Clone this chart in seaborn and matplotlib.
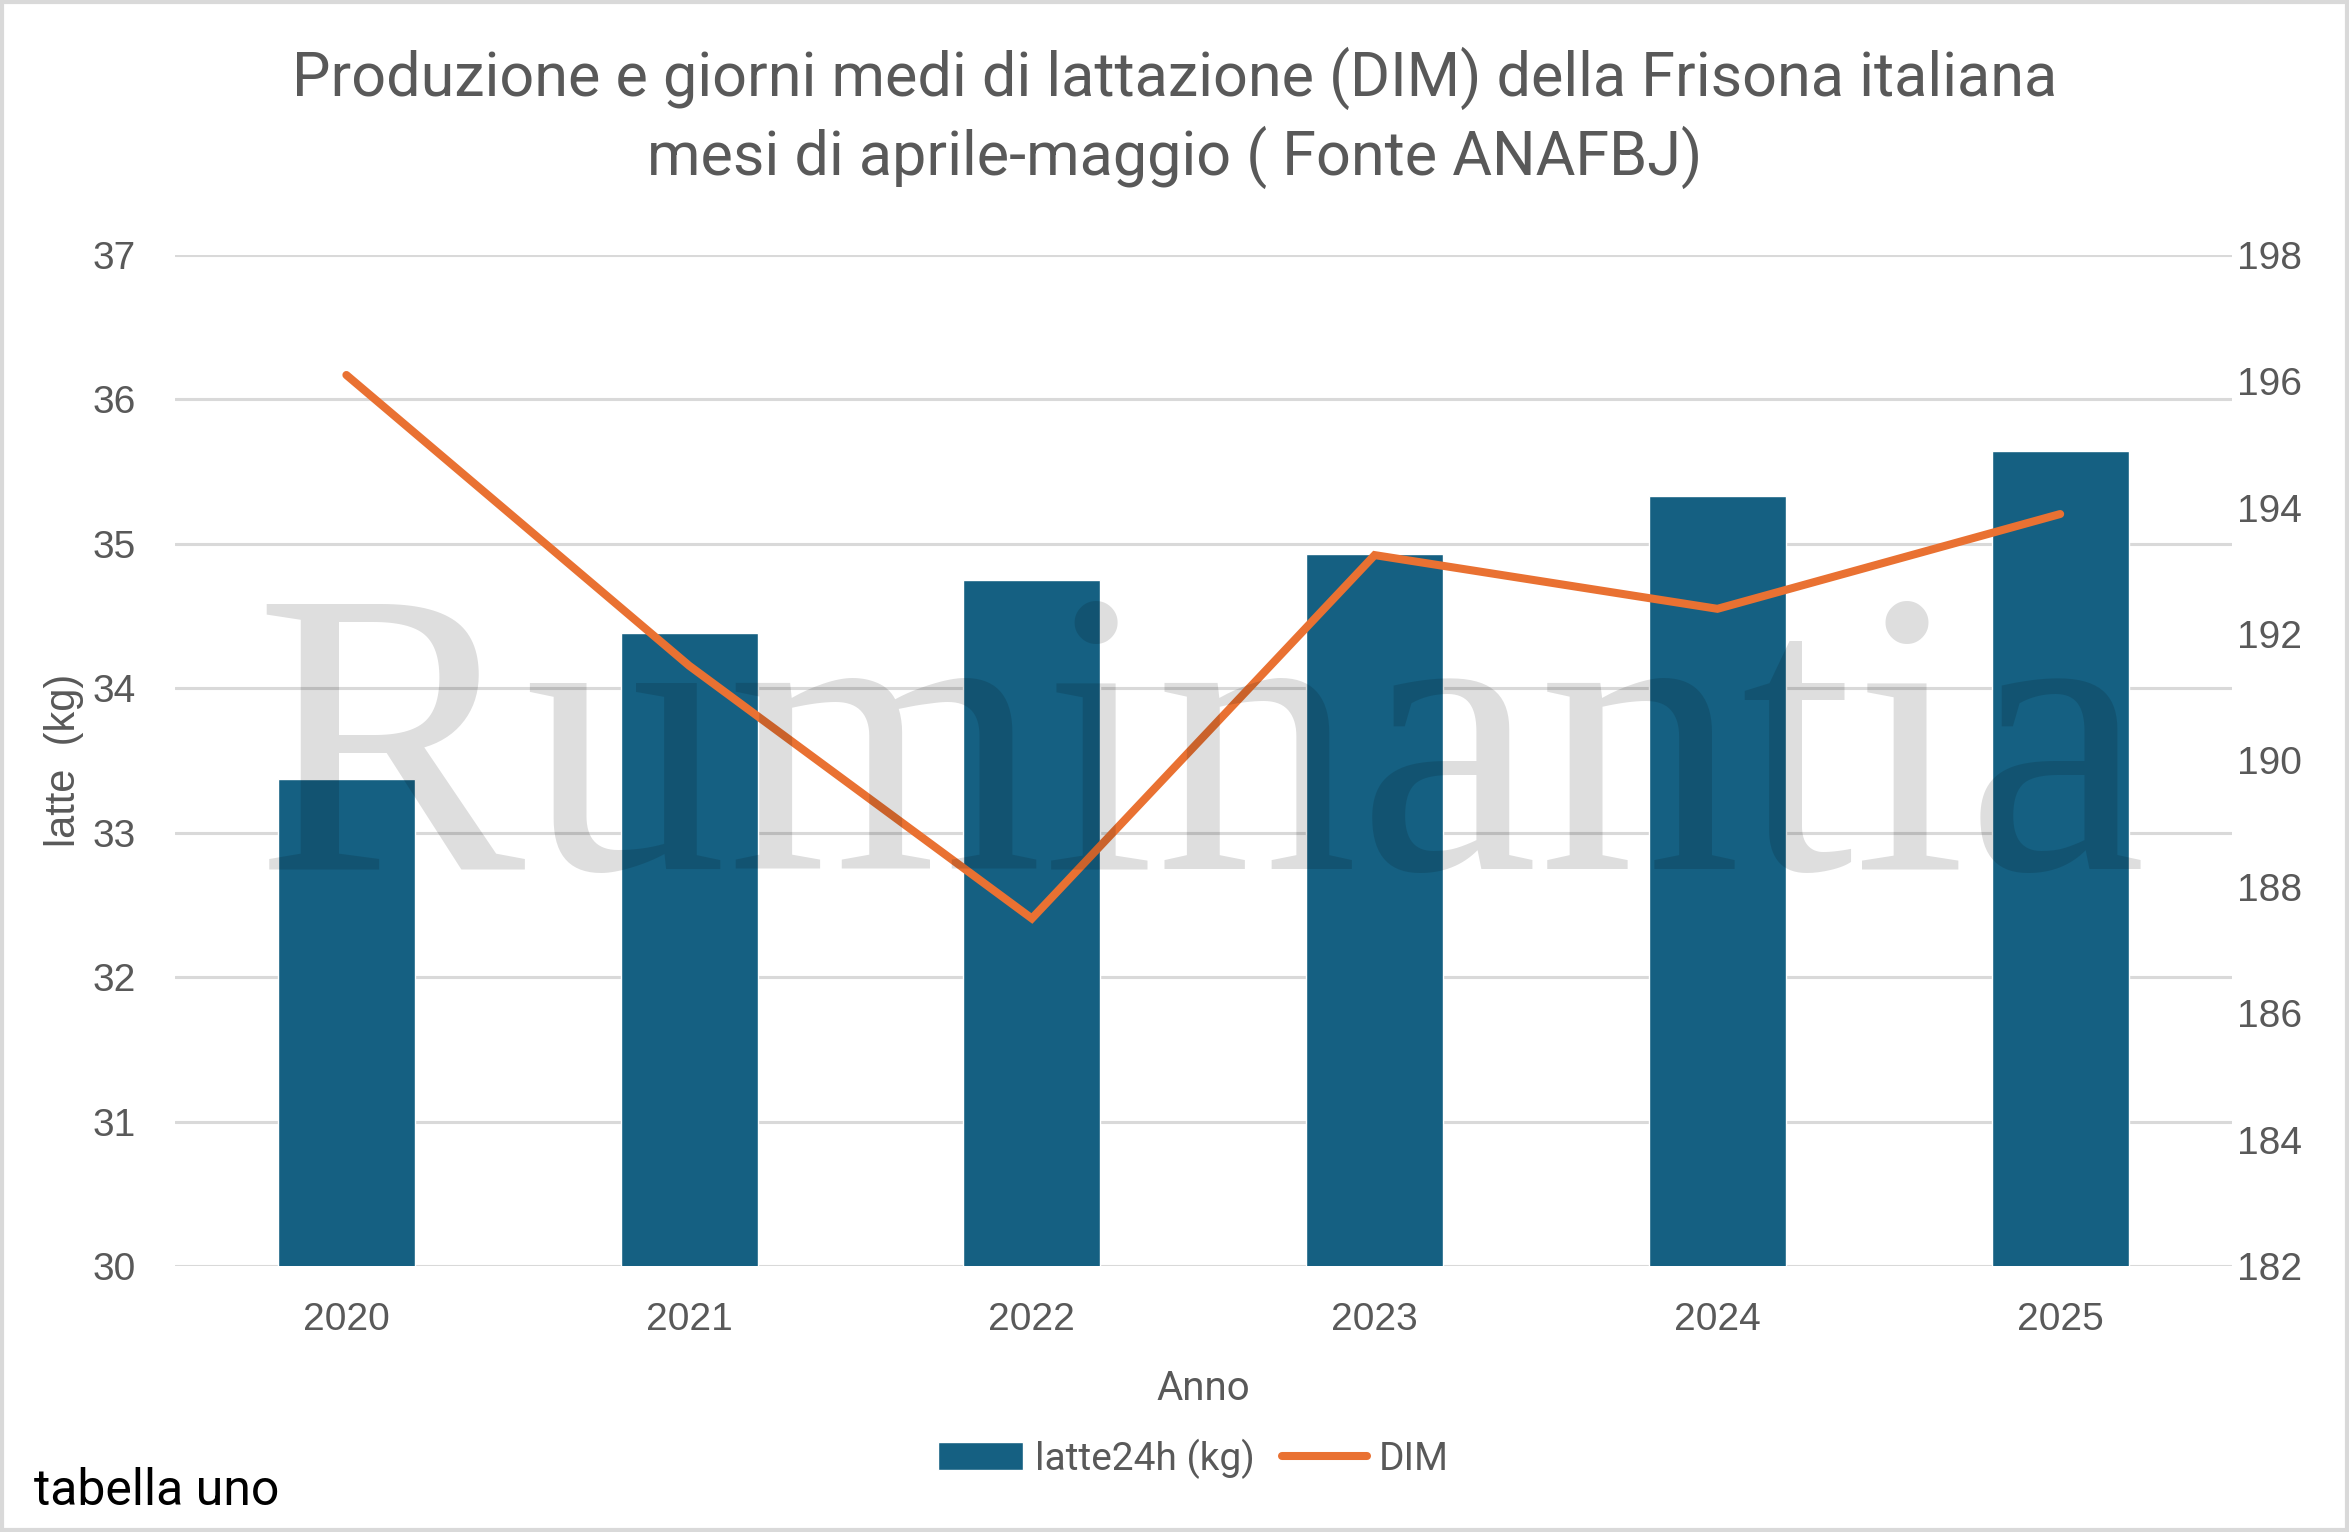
import matplotlib
matplotlib.use("Agg")
import matplotlib.pyplot as plt
from matplotlib import font_manager
from matplotlib.patches import Rectangle
import seaborn as sns
import pandas as pd

anni = ["2020", "2021", "2022", "2023", "2024", "2025"]
latte24h = [33.37, 34.38, 34.75, 34.93, 35.33, 35.64]
dim = [196.1, 191.5, 187.5, 193.25, 192.4, 193.9]

left_ticks = [30, 31, 32, 33, 34, 35, 36, 37]
right_ticks = [182, 184, 186, 188, 190, 192, 194, 196, 198]

BAR_COLOR = "#156082"
LINE_COLOR = "#E97132"
TEXT_COLOR = "#595959"
GRID_COLOR = "#d9d9d9"

installed = {f.name for f in font_manager.fontManager.ttflist}
NARROW = "Liberation Sans Narrow" if "Liberation Sans Narrow" in installed else "Roboto"

sns.set_theme(style="white")
plt.rcParams["font.family"] = ["Liberation Sans", "DejaVu Sans"]

df = pd.DataFrame({"anno": anni, "latte": latte24h, "dim": dim})

fig = plt.figure(figsize=(23.49, 15.32), dpi=100)
ax = fig.add_axes([0.0745, 0.1736, 0.8755, 0.66])

sns.barplot(data=df, x="anno", y="latte", color=BAR_COLOR, saturation=1,
            width=0.4, ax=ax, label="latte24h (kg)", zorder=2)

ax2 = ax.twinx()
sns.lineplot(data=df, x="anno", y="dim", color=LINE_COLOR, linewidth=5.8,
             ax=ax2, sort=False, label="DIM")
for ln in ax2.get_lines():
    ln.set_solid_capstyle("round")
    ln.set_solid_joinstyle("miter")
if ax2.get_legend():
    ax2.get_legend().remove()
if ax.get_legend():
    ax.get_legend().remove()

ax.set_xlim(-0.5, len(anni) - 0.5)
ax.set_ylim(left_ticks[0], left_ticks[-1])
ax.set_yticks(left_ticks)
ax2.set_ylim(right_ticks[0], right_ticks[-1])
ax2.set_yticks(right_ticks)

ax.yaxis.grid(True, color=GRID_COLOR, linewidth=2.2, zorder=0)
ax.xaxis.grid(False)
ax.set_axisbelow(True)
ax2.grid(False)
for a in (ax, ax2):
    for s in a.spines.values():
        s.set_visible(False)
    a.tick_params(axis="both", length=0, labelsize=28, labelcolor=TEXT_COLOR)
ax.tick_params(axis="y", pad=28)
ax.tick_params(axis="x", pad=26)
ax2.tick_params(axis="y", pad=4)

ax.set_xlabel("Anno", fontsize=29, color=TEXT_COLOR, family=NARROW, labelpad=22)
ax.set_ylabel("latte  (kg)", fontsize=30, color=TEXT_COLOR, labelpad=6)
ax2.set_ylabel("")

fig.text(0.5, 0.949, "Produzione e giorni medi di lattazione (DIM) della Frisona italiana",
         ha="center", va="center", fontsize=44, color=TEXT_COLOR, family=NARROW)
fig.text(0.5, 0.897, "mesi di aprile-maggio ( Fonte ANAFBJ)",
         ha="center", va="center", fontsize=44, color=TEXT_COLOR, family=NARROW)

# watermark over the plot
fig.text(0.511, 0.433, "Ruminantia", ha="center", va="baseline", fontsize=292,
         family=["Liberation Serif", "DejaVu Serif"], color="black", alpha=0.13, zorder=10)

fig.text(0.0145, 0.0175, "tabella uno", ha="left", va="baseline", fontsize=36,
         color="black", family=["Roboto", "DejaVu Sans"])

handles = [ax.patches[0], ax2.get_lines()[0]]
leg = fig.legend(handles, ["latte24h (kg)", "DIM"], loc="center",
                 bbox_to_anchor=(0.508, 0.048), ncol=2, frameon=False,
                 handlelength=2.2, handleheight=0.7,
                 handletextpad=0.3, columnspacing=0.7,
                 prop={"family": NARROW, "size": 28})
for t in leg.get_texts():
    t.set_color(TEXT_COLOR)

fig.add_artist(Rectangle((0.001, 0.001), 0.998, 0.998, transform=fig.transFigure,
                         fill=False, edgecolor=GRID_COLOR, linewidth=3))

fig.savefig("out.png", dpi=100, facecolor="white")
